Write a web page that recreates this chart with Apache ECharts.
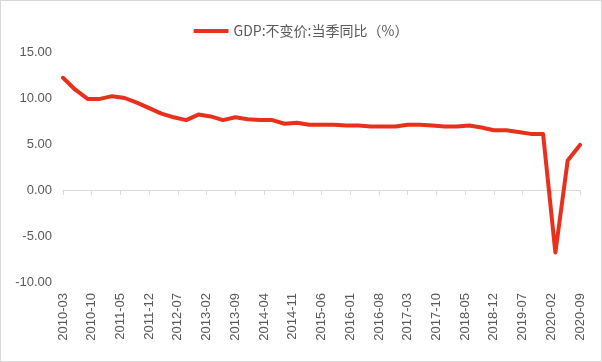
<!DOCTYPE html>
<html>
<head>
<meta charset="utf-8">
<script src="https://cdn.jsdelivr.net/npm/echarts@6/dist/echarts.min.js"></script>
<style>
  html, body { margin: 0; padding: 0; background: #fff; }
  #chart { position: absolute; left: 0; top: 0; width: 602px; height: 362px; }
  #frame { position: absolute; left: 0; top: 0; width: 600px; height: 360px; border: 1px solid #d9d9d9; pointer-events: none; }
</style>
</head>
<body>
<div id="chart"></div>
<div id="frame"></div>
<script>
// Series name
const seriesName = 'GDP:不变价:当季同比（%）';

// Quarter-end dates and values
const quarters = [
  '2010-03','2010-06','2010-09','2010-12',
  '2011-03','2011-06','2011-09','2011-12',
  '2012-03','2012-06','2012-09','2012-12',
  '2013-03','2013-06','2013-09','2013-12',
  '2014-03','2014-06','2014-09','2014-12',
  '2015-03','2015-06','2015-09','2015-12',
  '2016-03','2016-06','2016-09','2016-12',
  '2017-03','2017-06','2017-09','2017-12',
  '2018-03','2018-06','2018-09','2018-12',
  '2019-03','2019-06','2019-09','2019-12',
  '2020-03','2020-06','2020-09'
];
const gdpYoY = [
  12.2, 10.9, 9.9, 9.9,
  10.2, 10.0, 9.5, 8.9,
  8.3, 7.9, 7.6, 8.2,
  8.0, 7.6, 7.9, 7.7,
  7.6, 7.6, 7.2, 7.3,
  7.1, 7.1, 7.1, 7.0,
  7.0, 6.9, 6.9, 6.9,
  7.1, 7.1, 7.0, 6.9,
  6.9, 7.0, 6.8, 6.5,
  6.5, 6.3, 6.1, 6.1,
  -6.8, 3.2, 4.9
];

// Axis range / tick values
const firstMonth = '2010-03';
const lastMonth = '2020-09';
const yMin = -10, yMax = 15, yStep = 5;

// Monthly category axis
const months = [];
(function () {
  let [y, m] = firstMonth.split('-').map(Number);
  const [ey, em] = lastMonth.split('-').map(Number);
  while (y < ey || (y === ey && m <= em)) {
    months.push(y + '-' + String(m).padStart(2, '0'));
    m++; if (m > 12) { m = 1; y++; }
  }
})();
const qMap = {};
quarters.forEach((q, i) => { qMap[q] = gdpYoY[i]; });
const seriesData = months.map(mo => (mo in qMap ? qMap[mo] : null));

const FONT = "'Liberation Sans', Arial, 'Noto Sans CJK SC', sans-serif";
const chart = echarts.init(document.getElementById('chart'), null, { renderer: 'canvas' });
chart.setOption({
  animation: false,
  backgroundColor: '#ffffff',
  legend: {
    top: 19,
    left: 'center',
    icon: 'roundRect',
    itemWidth: 35,
    itemHeight: 4,
    itemGap: 5,
    textStyle: { fontSize: 14, color: '#595959', fontFamily: "'Noto Sans CJK SC', 'Liberation Sans', sans-serif" },
    data: [seriesName]
  },
  grid: { left: 63, right: 22, top: 52, bottom: 80, containLabel: false },
  xAxis: [
    {
      type: 'category',
      data: months,
      boundaryGap: false,
      position: 'bottom',
      axisLine: { show: false, onZero: false },
      axisTick: { show: false },
      axisLabel: {
        interval: 6,
        rotate: 90,
        margin: 11,
        fontSize: 13,
        color: '#595959',
        fontFamily: FONT
      },
      splitLine: { show: false }
    },
    {
      type: 'category',
      data: months,
      boundaryGap: false,
      position: 'bottom',
      axisLine: { show: true, onZero: true, lineStyle: { color: '#d9d9d9', width: 1 } },
      axisTick: { show: true, interval: 6, length: 5, lineStyle: { color: '#d9d9d9' } },
      axisLabel: { show: false },
      splitLine: { show: false }
    }
  ],
  yAxis: {
    type: 'value',
    min: yMin,
    max: yMax,
    interval: yStep,
    axisLine: { show: false },
    axisTick: { show: false },
    splitLine: { show: false },
    axisLabel: {
      margin: 11,
      fontSize: 13,
      color: '#595959',
      fontFamily: FONT,
      formatter: v => v.toFixed(2)
    }
  },
  series: [{
    name: seriesName,
    type: 'line',
    xAxisIndex: 0,
    data: seriesData,
    connectNulls: true,
    showSymbol: false,
    symbol: 'none',
    color: '#e8301c',
    lineStyle: { width: 4, color: '#e8301c', cap: 'round', join: 'round' }
  }]
});
</script>
</body>
</html>
